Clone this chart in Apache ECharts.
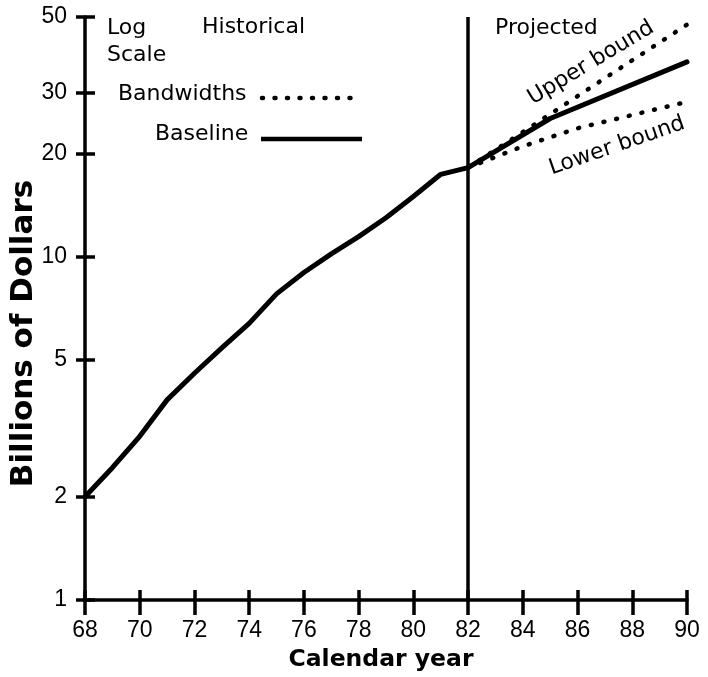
<!DOCTYPE html>
<html>
<head>
<meta charset="utf-8">
<script src="https://cdn.jsdelivr.net/npm/echarts@6/dist/echarts.min.js"></script>
<style>html,body{margin:0;padding:0;background:#fff;}#c{width:708px;height:677px;}</style>
</head>
<body>
<div id="c"></div>
<script>
// ---- data ----
const histYears = [68, 69, 70, 71, 72, 73, 74, 75, 76, 77, 78, 79, 80, 81, 82];
const histBaseline = [2.0, 2.43, 3.0, 3.83, 4.58, 5.43, 6.4, 7.8, 9.0, 10.2, 11.45, 13.0, 15.0, 17.4, 18.2];
const projYears = [85, 90];
const projBaseline = [25.3, 37.0];
const boundYears = [82, 84, 86, 88, 90];
const upperBound = [18.2, 23.1, 29.4, 37.4, 47.5];
const lowerBound = [18.2, 21.0, 23.7, 25.9, 28.3];
const xTicks = [68, 70, 72, 74, 76, 78, 80, 82, 84, 86, 88, 90];
const yTicks = [1, 2, 5, 10, 20, 30, 50];
const divideYear = 82;

const baseData = histYears.map((y, i) => [y, histBaseline[i]])
  .concat(projYears.map((y, i) => [y, projBaseline[i]]));
const upperData = boundYears.map((y, i) => [y, upperBound[i]]);
const lowerData = boundYears.map((y, i) => [y, lowerBound[i]]);

const chart = echarts.init(document.getElementById('c'), null, {renderer: 'canvas'});
const txtFont = 'DejaVu Sans';
const dotted = {color: '#000', width: 4.5, type: [1, 12], cap: 'round'};

const option = {
  animation: false,
  backgroundColor: '#fff',
  grid: {left: 85, right: 21, top: 17, bottom: 77, containLabel: false, outerBoundsMode: 'none'},
  xAxis: [{
    type: 'value', min: 68, max: 90, interval: 2, position: 'bottom',
    axisLine: {show: true, lineStyle: {color: '#000', width: 3.5}},
    axisTick: {show: true, inside: false, length: 15, lineStyle: {color: '#000', width: 3.5}},
    axisLabel: {margin: 19, fontFamily: '"Liberation Sans", Arial, sans-serif', fontSize: 23, color: '#000'},
    splitLine: {show: false},
    name: 'Calendar year', nameLocation: 'middle', nameGap: 48,
    nameTextStyle: {fontFamily: txtFont, fontWeight: 'bold', fontSize: 23.5, color: '#000', padding: [0, 10, 0, 0]}
  }, {
    type: 'value', min: 68, max: 90, interval: 2, position: 'bottom',
    axisLine: {show: false},
    axisTick: {show: true, inside: true, length: 10, lineStyle: {color: '#000', width: 3.5}},
    axisLabel: {show: false}, splitLine: {show: false}
  }],
  yAxis: [{
    type: 'log', logBase: 10, min: 1, max: 50, position: 'left',
    axisLine: {show: true, lineStyle: {color: '#000', width: 3.5}},
    axisTick: {show: true, inside: false, length: 9, customValues: yTicks, lineStyle: {color: '#000', width: 3.5}},
    axisLabel: {margin: 18, customValues: yTicks, fontFamily: '"Liberation Sans", Arial, sans-serif', fontSize: 23, color: '#000'},
    splitLine: {show: false}, minorTick: {show: false},
    name: 'Billions of Dollars', nameLocation: 'middle', nameGap: 46, nameRotate: 90, nameMoveOverlap: false,
    nameTextStyle: {fontFamily: txtFont, fontWeight: 'bold', fontSize: 31, color: '#000', padding: [0, 50, 0, 0]}
  }, {
    type: 'log', logBase: 10, min: 1, max: 50, position: 'left',
    axisLine: {show: false},
    axisTick: {show: true, inside: true, length: 10, customValues: yTicks, lineStyle: {color: '#000', width: 3.5}},
    axisLabel: {show: false}, splitLine: {show: false}
  }],
  series: [{
    name: 'Baseline', type: 'line', data: baseData, xAxisIndex: 0, yAxisIndex: 0,
    showSymbol: false, symbol: 'none',
    lineStyle: {color: '#000', width: 5, join: 'round', cap: 'round'},
    markLine: {
      silent: true, symbol: 'none', label: {show: false},
      lineStyle: {color: '#000', width: 3.5, type: 'solid'},
      data: [{xAxis: divideYear}]
    }
  }, {
    name: 'Upper bound', type: 'line', data: upperData, symbol: 'none', showSymbol: false,
    lineStyle: dotted
  }, {
    name: 'Lower bound', type: 'line', data: lowerData, symbol: 'none', showSymbol: false,
    lineStyle: dotted
  }],
  graphic: [
    {type: 'text', x: 107, y: 28, style: {text: 'Log', font: '22px "DejaVu Sans"', fill: '#000', verticalAlign: 'middle'}},
    {type: 'text', x: 107, y: 55, style: {text: 'Scale', font: '22px "DejaVu Sans"', fill: '#000', verticalAlign: 'middle'}},
    {type: 'text', x: 202, y: 27, style: {text: 'Historical', font: '22px "DejaVu Sans"', fill: '#000', verticalAlign: 'middle'}},
    {type: 'text', x: 495, y: 28, style: {text: 'Projected', font: '22px "DejaVu Sans"', fill: '#000', verticalAlign: 'middle'}},
    {type: 'text', x: 118, y: 94, style: {text: 'Bandwidths', font: '22px "DejaVu Sans"', fill: '#000', verticalAlign: 'middle'}},
    {type: 'text', x: 155, y: 134, style: {text: 'Baseline', font: '22px "DejaVu Sans"', fill: '#000', verticalAlign: 'middle'}},
    {type: 'line', shape: {x1: 262, y1: 98, x2: 362, y2: 98}, style: {stroke: '#000', lineWidth: 4.5, lineDash: [1, 11.5], lineCap: 'round'}},
    {type: 'line', shape: {x1: 261, y1: 139, x2: 362, y2: 139}, style: {stroke: '#000', lineWidth: 4.5}},
    {type: 'text', x: 591, y: 63, rotation: 31 * Math.PI / 180,
      style: {text: 'Upper bound', font: '22px "DejaVu Sans"', fill: '#000', align: 'center', verticalAlign: 'middle'}},
    {type: 'text', x: 617, y: 146, rotation: 19 * Math.PI / 180,
      style: {text: 'Lower bound', font: '22px "DejaVu Sans"', fill: '#000', align: 'center', verticalAlign: 'middle'}}
  ]
};
chart.setOption(option);
</script>
</body>
</html>
